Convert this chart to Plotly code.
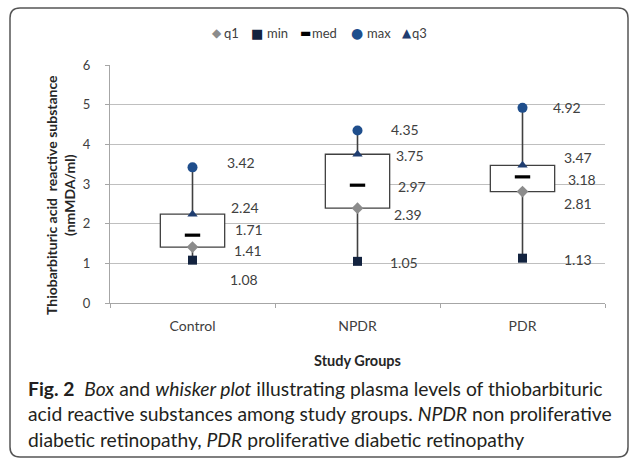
import plotly.graph_objects as go

# Study groups and five-number summaries (nmMDA/ml)
groups = ["Control", "NPDR", "PDR"]
q1_vals = [1.41, 2.39, 2.81]
min_vals = [1.08, 1.05, 1.13]
med_vals = [1.71, 2.97, 3.18]
max_vals = [3.42, 4.35, 4.92]
q3_vals = [2.24, 3.75, 3.47]

y_ticks = [0, 1, 2, 3, 4, 5, 6]

FONT = "Lato, 'Open Sans', sans-serif"
GRID = "#bfbfbf"
EDGE = "#404040"
TXT = "#404040"

fig = go.Figure()

# box body from q1 to q3
fig.add_trace(go.Bar(
    x=groups, base=q1_vals,
    y=[b - a for a, b in zip(q1_vals, q3_vals)],
    width=0.39, marker=dict(color="white", line=dict(color=EDGE, width=1.3)),
    showlegend=False, hoverinfo="skip",
))

# whiskers: min->q1 and q3->max
wx, wy = [], []
for g, lo, a, b, hi in zip(groups, min_vals, q1_vals, q3_vals, max_vals):
    wx += [g, g, None, g, g, None]
    wy += [lo, a, None, b, hi, None]
fig.add_trace(go.Scatter(x=wx, y=wy, mode="lines",
                         line=dict(color=EDGE, width=1.6),
                         showlegend=False, hoverinfo="skip"))

series = [
    ("q1", q1_vals, dict(symbol="diamond", size=9, color="#8c8c8c")),
    ("min", min_vals, dict(symbol="square", size=9, color="#13233f")),
    ("med", med_vals, dict(symbol="line-ew", size=11, color="black",
                           line=dict(color="black", width=3.2))),
    ("max", max_vals, dict(symbol="circle", size=10, color="#1f4e8c")),
    ("q3", q3_vals, dict(symbol="triangle-up", size=9, color="#1f3d70")),
]
for name, vals, mk in series:
    fig.add_trace(go.Scatter(x=groups, y=vals, mode="markers", name=name,
                             marker=mk, showlegend=False))

# value label offsets (px) per group, in the order q1, min, med, max, q3
label_offsets = {
    "Control": [(39, -3), (35, -19), (40, 6), (32, 5), (36, 7)],
    "NPDR": [(34, -6), (30, -1), (38, -1), (31, 1), (36, -1)],
    "PDR": [(39, -12), (39, -1), (43, -3), (28, 0), (39, 8)],
}
annotations = []
for gi, g in enumerate(groups):
    for si, (name, vals, _) in enumerate(series):
        dx, dy = label_offsets[g][si]
        annotations.append(dict(
            x=g, y=vals[gi], xref="x", yref="y", text=f"{vals[gi]:.2f}",
            showarrow=False, xanchor="left", yanchor="middle",
            xshift=dx, yshift=dy, font=dict(family=FONT, size=14, color=TXT),
        ))

# compact key above the plot: glyph + series name
key_glyphs = ["◆", "■", "▬", "●", "▲"]
key_sizes = [12, 13, 12, 14, 12]
key_glyph_x = [107, 147, 195, 247, 297]   # px from plot left edge
key_text_x = [112, 155, 200, 255, 300]
for (name, _, mk), gl, gs, gx, tx in zip(series, key_glyphs, key_sizes,
                                         key_glyph_x, key_text_x):
    annotations.append(dict(
        x=0, y=1, xref="paper", yref="paper", xshift=gx, yshift=32,
        text=gl, showarrow=False, xanchor="center", yanchor="middle",
        font=dict(family="DejaVu Sans", size=gs, color=mk["color"]),
    ))
    annotations.append(dict(
        x=0, y=1, xref="paper", yref="paper", xshift=tx, yshift=32,
        text=name, showarrow=False, xanchor="left", yanchor="middle",
        font=dict(family=FONT, size=13, color=TXT),
    ))

# axis titles
annotations.append(dict(
    x=0, y=0.5, xref="paper", yref="paper", xshift=-50, yshift=-11,
    text="<b>Thiobarbituric acid  reactive substance<br>(nmMDA/ml)</b>",
    textangle=-90, showarrow=False, xanchor="center", yanchor="middle",
    font=dict(family=FONT, size=14, color="#262626"),
))
annotations.append(dict(
    x=0.5, y=0, xref="paper", yref="paper", yshift=-57,
    text="<b>Study Groups</b>", showarrow=False,
    xanchor="center", yanchor="middle",
    font=dict(family=FONT, size=14.5, color="#262626"),
))

# figure caption
caption = [
    "<b>Fig. 2</b>  <i>Box</i> and <i>whisker plot</i> illustrating plasma levels of thiobarbituric",
    "acid reactive substances among study groups. <i>NPDR</i> non proliferative",
    "diabetic retinopathy, <i>PDR</i> proliferative diabetic retinopathy",
]
for i, line in enumerate(caption):
    annotations.append(dict(
        x=0, y=0, xref="paper", yref="paper", xshift=-84, yshift=-85 - 25.5 * i,
        text=line, showarrow=False, xanchor="left", yanchor="middle",
        font=dict(family=FONT, size=19.3, color="#231f20"),
    ))

# rounded frame around chart and caption (pixel offsets from plot origin)
L, R, T, B, r = -100, 518, 295, -154, 10
frame = (f"M {L+r},{T} L {R-r},{T} Q {R},{T} {R},{T-r} L {R},{B+r} "
         f"Q {R},{B} {R-r},{B} L {L+r},{B} Q {L},{B} {L},{B+r} "
         f"L {L},{T-r} Q {L},{T} {L+r},{T} Z")

fig.update_layout(
    width=629, height=460,
    margin=dict(l=110, r=24, t=65, b=157),
    paper_bgcolor="white", plot_bgcolor="white",
    font=dict(family=FONT, size=12, color=TXT),
    showlegend=False,
    annotations=annotations,
    shapes=[dict(type="path", path=frame, xref="paper", yref="paper",
                 xsizemode="pixel", ysizemode="pixel", xanchor=0, yanchor=0,
                 line=dict(color="#555555", width=1.5), layer="above")],
    bargap=0.6,
)
fig.update_xaxes(
    showline=True, linecolor="#a6a6a6", linewidth=1,
    ticks="outside", tickson="boundaries", ticklen=4, tickcolor="#a6a6a6",
    showgrid=False, ticklabelstandoff=10,
    tickfont=dict(family=FONT, size=14, color=TXT),
)
fig.update_yaxes(
    range=[0, 6], tickvals=y_ticks, showline=True, linecolor="#a6a6a6",
    ticks="outside", ticklen=4, tickcolor="#a6a6a6",
    gridcolor=GRID, gridwidth=1, zeroline=False, ticklabelstandoff=12,
    tickfont=dict(family=FONT, size=13, color=TXT),
)

fig.write_html("out.html")
